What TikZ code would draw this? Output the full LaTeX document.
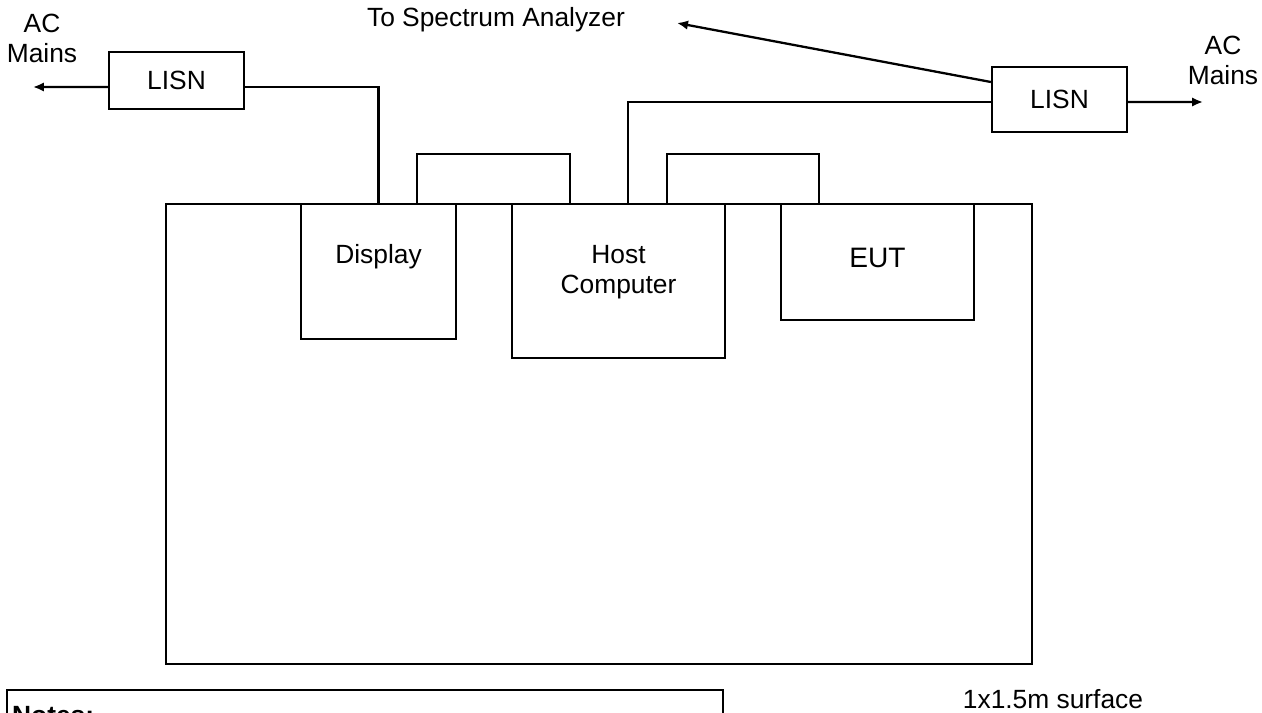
\documentclass[tikz,border=0pt]{standalone}
\usepackage{fontspec}
\setmainfont{Liberation Sans}
\usetikzlibrary{arrows.meta,positioning}

\begin{document}
\begin{tikzpicture}[x=0.02cm,y=-0.02cm,>={Latex[length=0.22cm,width=0.19cm]},line width=1.3pt,
  box/.style={draw,rectangle,inner sep=0pt},
  txt/.style={font=\fontsize{15}{17}\selectfont,align=center,inner sep=0pt},
  wire/.style={draw},
  feed/.style={draw,->}]
 \useasboundingbox (0,0) rectangle (1262,713);
 \clip (0,0) rectangle (1262,713);

 % table and the units on it
 \node[box,minimum width=17.32cm,minimum height=9.2cm] (table) at (599,434) {};
 \node[box,minimum width=3.1cm,minimum height=2.7cm]   (disp)  at (378.5,271.5) {};
 \node[box,minimum width=4.26cm,minimum height=3.08cm] (host)  at (618.5,281) {};
 \node[box,minimum width=3.86cm,minimum height=2.32cm] (eut)   at (877.5,262) {};
 \node[txt] (dispt) at ([yshift=-1.08cm]disp.north) {Display};
 \node[txt] (hostt) at ([yshift=-1.38cm]host.north) {Host\\Computer};
 \node[txt,font=\fontsize{16}{18}\selectfont] (eutt) at ([yshift=-1.1cm]eut.north) {EUT};

 % line impedance networks
 \node[box,txt,minimum width=2.7cm,minimum height=1.14cm] (lisnL) at (176.5,80.5) {LISN};
 \node[box,txt,minimum width=2.7cm,minimum height=1.3cm]  (lisnR) at (1059.5,99.5) {LISN};
 \coordinate (acL) at (33,87);
 \coordinate (acR) at (1203,102);
 \coordinate (sa)  at (677,23);

 \node[txt] (acLt) at (42,38) {AC\\Mains};
 \node[txt] (acRt) at (1223,60) {AC\\Mains};
 \node[txt] (sat)  at (496,20) {To Spectrum Analyzer};
 \node[txt] (surf) at (1053,699) {1x1.5m surface};

 % cables
 \path[feed] ([yshift=-0.13cm]lisnL.west) -- (acL);
 \path[wire] ([yshift=-0.13cm]lisnL.east) -| (disp.north);
 \path[feed] ([yshift=-0.05cm]lisnR.east) -- (acR);
 \path[wire] ([xshift=0.19cm]host.north) |- ([yshift=-0.05cm]lisnR.west);
 \path[feed] ([yshift=0.35cm]lisnR.west) -- (sa);
 \path[wire] ([xshift=0.77cm]disp.north) -- ++(0,0.98cm) -| ([xshift=-0.97cm]host.north);
 \path[wire] ([xshift=0.97cm]host.north) -- ++(0,0.98cm) -| ([xshift=-1.17cm]eut.north);

 % notes
 \draw (7,690) rectangle (723,780);
 \node[txt,anchor=base west,font=\fontsize{15}{17}\selectfont\bfseries] (notes) at (11,724) {Notes:};
\end{tikzpicture}
\end{document}
